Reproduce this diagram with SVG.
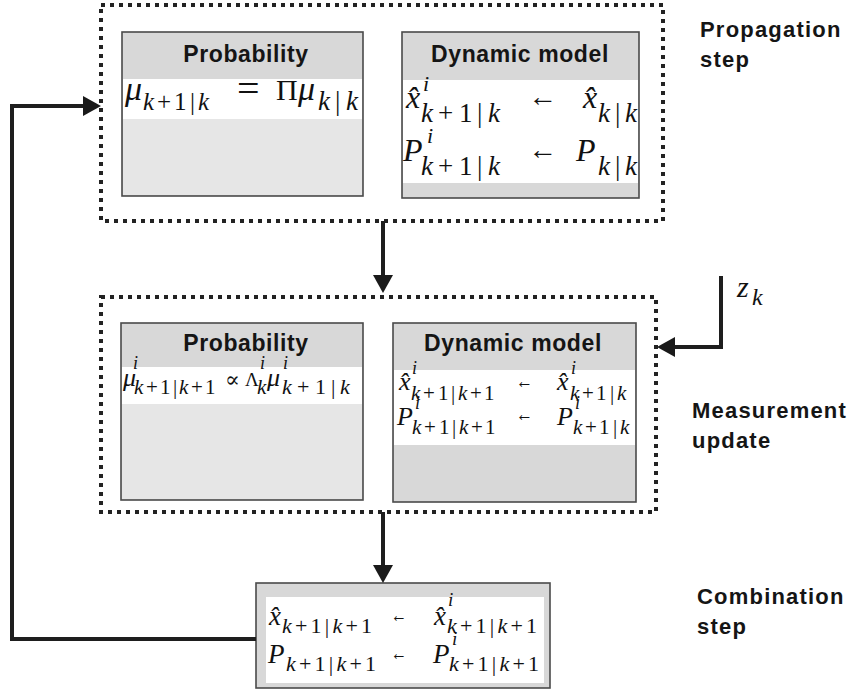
<svg xmlns="http://www.w3.org/2000/svg" width="850" height="694" viewBox="0 0 850 694">
<style>
.bg{fill:#ffffff}
.dot{fill:none;stroke:#222;stroke-width:4;stroke-dasharray:4 5}
.box{fill:#d8d8d8;stroke:#4a4a4a;stroke-width:1.6}
.band{fill:#ffffff}
.low{fill:#e6e6e6}
.ttl{font-family:"Liberation Sans",Arial,sans-serif;font-weight:bold;font-size:23px;fill:#151515;text-anchor:middle;letter-spacing:0.6px}
.lbl{font-family:"Liberation Sans",Arial,sans-serif;font-weight:bold;font-size:22px;fill:#151515;letter-spacing:1.2px}
.m{font-family:"Liberation Serif","DejaVu Serif",serif;font-style:italic;fill:#111}
.up{font-style:normal}
.conn{fill:none;stroke:#1e1e1e;stroke-width:4}
</style>
<defs>
<marker id="ah" viewBox="0 0 18 20" refX="10" refY="10" markerWidth="18" markerHeight="20" markerUnits="userSpaceOnUse" orient="auto">
<path d="M0,0 L18,10 L0,20 z" fill="#1a1a1a"/>
</marker>
</defs>
<rect class="bg" x="0" y="0" width="850" height="694"/>

<g id="propagation">
<rect class="dot" x="101" y="5" width="562" height="216"/>
<g id="prop-probability">
<rect class="box" x="122" y="32" width="241" height="164"/>
<rect class="band" x="123" y="79" width="239" height="40"/>
<rect class="low" x="123" y="119" width="239" height="76"/>
<text class="ttl" x="246" y="62">Probability</text>
<text class="m" font-size="34"><tspan x="125" y="100">μ</tspan><tspan x="143" y="110" font-size="25">k</tspan><tspan class="up" x="157 174 190" y="110" font-size="25">+1|</tspan><tspan x="198" y="110" font-size="25">k</tspan><tspan class="up" x="237" y="102" font-size="40">=</tspan><tspan class="up" x="276" y="100" font-size="30">Π</tspan><tspan x="298" y="100">μ</tspan><tspan x="318" y="110" font-size="27">k</tspan><tspan class="up" x="335" y="110" font-size="27">|</tspan><tspan x="346" y="110" font-size="27">k</tspan></text>
</g>
<g id="prop-dynamic">
<rect class="box" x="402" y="32" width="237" height="166"/>
<rect class="band" x="403" y="80" width="235" height="103"/>
<text class="ttl" x="520" y="62">Dynamic model</text>
<text class="m" font-size="32"><tspan x="406" y="108">x̂</tspan><tspan x="423" y="91" font-size="22">i</tspan><tspan x="421" y="122" font-size="27">k</tspan><tspan class="up" x="438 459 477" y="122" font-size="27">+1|</tspan><tspan x="488" y="122" font-size="27">k</tspan><tspan x="583" y="108">x̂</tspan><tspan x="598" y="122" font-size="27">k</tspan><tspan class="up" x="615" y="122" font-size="27">|</tspan><tspan x="625" y="122" font-size="27">k</tspan><tspan x="403" y="161">P</tspan><tspan x="427" y="143" font-size="22">i</tspan><tspan x="421" y="175" font-size="27">k</tspan><tspan class="up" x="438 459 477" y="175" font-size="27">+1|</tspan><tspan x="488" y="175" font-size="27">k</tspan><tspan x="576" y="161">P</tspan><tspan x="598" y="175" font-size="27">k</tspan><tspan class="up" x="615" y="175" font-size="27">|</tspan><tspan x="625" y="175" font-size="27">k</tspan></text>
<text class="m up" x="528" y="106" font-size="28" textLength="29" lengthAdjust="spacingAndGlyphs">←</text>
<text class="m up" x="528" y="159" font-size="28" textLength="29" lengthAdjust="spacingAndGlyphs">←</text>
</g>
</g>

<g id="measurement">
<rect class="dot" x="101" y="297" width="555" height="215"/>
<g id="meas-probability">
<rect class="box" x="121" y="323" width="242" height="177"/>
<rect class="band" x="122" y="367" width="240" height="37"/>
<rect class="low" x="122" y="404" width="240" height="95"/>
<text class="ttl" x="246" y="351">Probability</text>
<text class="m" font-size="26"><tspan x="123" y="386">μ</tspan><tspan x="133" y="369" font-size="18">i</tspan><tspan x="134" y="394" font-size="21">k</tspan><tspan class="up" x="146 160 173" y="394" font-size="21">+1|</tspan><tspan x="179" y="394" font-size="21">k</tspan><tspan class="up" x="191 205" y="394" font-size="21">+1</tspan><tspan class="up" x="225" y="387" font-size="22">∝</tspan><tspan class="up" x="245" y="386" font-size="19">Λ</tspan><tspan x="260" y="369" font-size="18">i</tspan><tspan x="257" y="394" font-size="21">k</tspan><tspan x="267" y="386">μ</tspan><tspan x="283" y="369" font-size="18">i</tspan><tspan x="282" y="394" font-size="22">k</tspan><tspan class="up" x="297 315 331" y="394" font-size="22">+1|</tspan><tspan x="340" y="394" font-size="22">k</tspan></text>
</g>
<g id="meas-dynamic">
<rect class="box" x="393" y="323" width="243" height="179"/>
<rect class="band" x="394" y="370" width="241" height="75"/>
<text class="ttl" x="513" y="351">Dynamic model</text>
<text class="m" font-size="26"><tspan x="399" y="390">x̂</tspan><tspan x="412" y="374" font-size="18">i</tspan><tspan x="411" y="400" font-size="21">k</tspan><tspan class="up" x="423 438 451" y="400" font-size="21">+1|</tspan><tspan x="458" y="400" font-size="21">k</tspan><tspan class="up" x="470 484" y="400" font-size="21">+1</tspan><tspan x="557" y="390">x̂</tspan><tspan x="571" y="374" font-size="18">i</tspan><tspan x="570" y="400" font-size="21">k</tspan><tspan class="up" x="582 596 610" y="400" font-size="21">+1|</tspan><tspan x="617" y="400" font-size="21">k</tspan><tspan x="397" y="425">P</tspan><tspan x="415" y="409" font-size="18">i</tspan><tspan x="412" y="434" font-size="21">k</tspan><tspan class="up" x="424 439 452" y="434" font-size="21">+1|</tspan><tspan x="459" y="434" font-size="21">k</tspan><tspan class="up" x="471 485" y="434" font-size="21">+1</tspan><tspan x="557" y="425">P</tspan><tspan x="575" y="409" font-size="18">i</tspan><tspan x="573" y="434" font-size="21">k</tspan><tspan class="up" x="585 599 613" y="434" font-size="21">+1|</tspan><tspan x="620" y="434" font-size="21">k</tspan></text>
<text class="m up" x="516" y="388" font-size="22" textLength="17" lengthAdjust="spacingAndGlyphs">←</text>
<text class="m up" x="516" y="421" font-size="22" textLength="17" lengthAdjust="spacingAndGlyphs">←</text>
</g>
</g>

<g id="combination">
<rect class="box" x="256" y="583" width="294" height="105"/>
<rect class="band" x="266" y="597" width="278" height="86"/>
<text class="m" font-size="27"><tspan x="269" y="625">x̂</tspan><tspan x="282" y="633" font-size="22">k</tspan><tspan class="up" x="295 310.6 324.8" y="633" font-size="22">+1|</tspan><tspan x="332.4" y="633" font-size="22">k</tspan><tspan class="up" x="345.4 361" y="633" font-size="22">+1</tspan><tspan x="434" y="625">x̂</tspan><tspan x="448" y="606" font-size="19">i</tspan><tspan x="447" y="633" font-size="22">k</tspan><tspan class="up" x="460 475.6 489.8" y="633" font-size="22">+1|</tspan><tspan x="497.4" y="633" font-size="22">k</tspan><tspan class="up" x="510.4 526" y="633" font-size="22">+1</tspan><tspan x="268" y="663">P</tspan><tspan x="286" y="671" font-size="22">k</tspan><tspan class="up" x="299 314.6 328.8" y="671" font-size="22">+1|</tspan><tspan x="336.4" y="671" font-size="22">k</tspan><tspan class="up" x="349.4 365" y="671" font-size="22">+1</tspan><tspan x="433" y="663">P</tspan><tspan x="452" y="645" font-size="19">i</tspan><tspan x="449" y="671" font-size="22">k</tspan><tspan class="up" x="462 477.6 491.8" y="671" font-size="22">+1|</tspan><tspan x="499.4" y="671" font-size="22">k</tspan><tspan class="up" x="512.4 528" y="671" font-size="22">+1</tspan></text>
<text class="m up" x="391" y="622" font-size="22" textLength="16" lengthAdjust="spacingAndGlyphs">←</text>
<text class="m up" x="391" y="660" font-size="22" textLength="16" lengthAdjust="spacingAndGlyphs">←</text>
</g>

<g id="measurement-input">
<text class="m" font-size="30"><tspan x="737" y="297">z</tspan><tspan x="752" y="305" font-size="24">k</tspan></text>
</g>

<g id="labels">
<text class="lbl" x="700" y="37">Propagation</text>
<text class="lbl" x="700" y="67">step</text>
<text class="lbl" x="692" y="418">Measurement</text>
<text class="lbl" x="692" y="448">update</text>
<text class="lbl" x="697" y="604">Combination</text>
<text class="lbl" x="697" y="634">step</text>
</g>

<g id="connectors">
<path class="conn" d="M383,221 L383,285" marker-end="url(#ah)"/>
<path class="conn" d="M383,512 L383,575" marker-end="url(#ah)"/>
<path class="conn" d="M256,639 L12,639 L12,106 L93,106" marker-end="url(#ah)"/>
<path class="conn" d="M721,276 L721,347 L665,347" marker-end="url(#ah)"/>
</g>
</svg>
